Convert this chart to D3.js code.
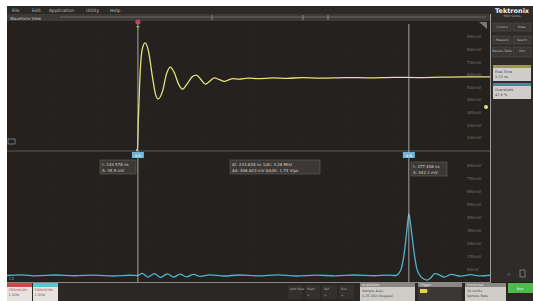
<!DOCTYPE html>
<meta charset="utf-8">
<style>
body{margin:0;background:#fff;}
svg{display:block;font-family:'DejaVu Sans',sans-serif;}
</style>
<svg width="533" height="301"></svg>
<script src="https://d3js.org/d3.v7.min.js"></script>
<script>
// data (time in ns, amplitude in mV)
var menuItems = ["File", "Edit", "Application", "Utility", "Help"];
var ch1Time = [267, 270, 272, 275, 280, 286, 293, 301, 307, 313, 322, 330, 338, 346, 355, 363, 373, 384, 392, 402, 411, 421, 429, 440, 450, 459, 467, 480, 500, 520, 550, 580, 610, 650, 700, 750, 800, 850, 900, 950, 1000];
var ch1Value = [0, 0, 250, 560, 800, 850, 783, 583, 450, 405, 467, 600, 658, 617, 525, 483, 525, 583, 595, 558, 523, 550, 572, 558, 545, 556, 566, 562, 570, 566, 572, 569, 574, 571, 575, 573, 577, 575, 578, 580, 580];
var ch2Time = [0, 30, 60, 100, 140, 180, 220, 255, 270, 280, 292, 305, 318, 332, 345, 358, 372, 386, 400, 420, 450, 480, 520, 560, 600, 640, 680, 720, 760, 790, 805, 815, 822, 828, 832, 836, 842, 848, 855, 862, 870, 878, 886, 895, 905, 920, 940, 960, 980, 1000];
var ch2Value = [0, 5, -3, 4, -2, 3, -4, 2, 0, 16, -12, 15, -14, 12, -13, 11, -10, 9, -6, 5, -4, 4, -3, 5, -4, 3, -3, 4, -2, 3, 0, 40, 160, 350, 475, 380, 200, 60, 0, -25, -35, -15, 15, 5, -12, 8, -5, 6, -3, 2];
var ch1Ticks = [100, 200, 300, 400, 500, 600, 700, 800, 900];
var ch2Ticks = [50, 150, 250, 350, 450, 550, 650, 750, 850];
var cursorTimes = [271, 832];
var readLeft = ["t: 143.578 ns", "A: 35.5 mV"];
var readMid = ["Δt: 233.828 ns   1/Δt: 4.28 MHz", "ΔA: 406.623 mV  ΔA/Δt: 1.74 V/μs"];
var readRight = ["t: 377.406 ns", "A: 442.1 mV"];

var svg = d3.select("svg");

var x = d3.scaleLinear().domain([0, 1000]).range([7, 490]);
var yTop = d3.scaleLinear().domain([0, 1000]).range([150, 24]);
var yBot = d3.scaleLinear().domain([-50, 950]).range([282, 152]);

// screen background
svg.append("rect").attr("x", 7).attr("y", 6).attr("width", 526).attr("height", 295).attr("fill", "#24211e");

// menu bar
svg.append("rect").attr("x", 7).attr("y", 6).attr("width", 484).attr("height", 8).attr("fill", "#2c2a28");
var mx = [12, 32, 49, 86, 110];
svg.selectAll(".menu").data(menuItems).enter().append("text")
    .attr("x", (d, i) => mx[i]).attr("y", 12)
    .attr("font-size", 4.5).attr("fill", "#bbb").text(d => d);

// waveform view title bar
svg.append("rect").attr("x", 7).attr("y", 14).attr("width", 484).attr("height", 7).attr("fill", "#3d3a37");
svg.append("text").attr("x", 10).attr("y", 19.5).attr("font-size", 4).attr("fill", "#ccc").text("Waveform View");
svg.append("line").attr("x1", 60).attr("x2", 486).attr("y1", 17).attr("y2", 17).attr("stroke", "#6b6865").attr("stroke-width", 1);
[212, 303, 328].forEach(function (t) {
    svg.append("line").attr("x1", t).attr("x2", t).attr("y1", 15).attr("y2", 20).attr("stroke", "#8a8784");
});
svg.append("path").attr("d", "M479,22 L487,22 L487,29 Z").attr("fill", "#777");

// faint grid
var grid = svg.append("g").attr("stroke", "#2f2b28").attr("stroke-width", 0.5).attr("stroke-dasharray", "1,2");
d3.range(100, 1000, 100).forEach(function (t) {
    grid.append("line").attr("x1", x(t)).attr("x2", x(t)).attr("y1", 22).attr("y2", 282);
});
ch1Ticks.forEach(function (v) {
    grid.append("line").attr("x1", 7).attr("x2", 490).attr("y1", yTop(v)).attr("y2", yTop(v));
});
ch2Ticks.forEach(function (v) {
    grid.append("line").attr("x1", 7).attr("x2", 490).attr("y1", yBot(v)).attr("y2", yBot(v));
});

// separators and borders
svg.append("line").attr("x1", 7).attr("x2", 490).attr("y1", 151).attr("y2", 151).attr("stroke", "#5e5b58").attr("stroke-width", 1);
svg.append("line").attr("x1", 7).attr("x2", 490).attr("y1", 282.5).attr("y2", 282.5).attr("stroke", "#8a8784").attr("stroke-width", 1);
svg.append("line").attr("x1", 490.5).attr("x2", 490.5).attr("y1", 14).attr("y2", 283).attr("stroke", "#9a9794").attr("stroke-width", 1);

// right side axes
svg.append("g").attr("transform", "translate(467,0)")
    .call(d3.axisRight(yTop).tickValues(ch1Ticks).tickSize(0).tickPadding(0).tickFormat(d => d + "mV"))
    .call(g => g.select(".domain").remove())
    .selectAll("text").attr("font-size", 4).attr("fill", "#7a7672").attr("font-family", "DejaVu Sans");
svg.append("g").attr("transform", "translate(467,0)")
    .call(d3.axisRight(yBot).tickValues(ch2Ticks).tickSize(0).tickPadding(0).tickFormat(d => d + "mV"))
    .call(g => g.select(".domain").remove())
    .selectAll("text").attr("font-size", 4).attr("fill", "#7a7672").attr("font-family", "DejaVu Sans");

// traces
var ch1 = ch1Time.map((t, i) => [t, ch1Value[i]]);
var ch2 = ch2Time.map((t, i) => [t, ch2Value[i]]);
var line1 = d3.line().x(d => x(d[0])).y(d => yTop(d[1])).curve(d3.curveMonotoneX);
var line2 = d3.line().x(d => x(d[0])).y(d => yBot(d[1])).curve(d3.curveMonotoneX);
svg.append("path").datum(ch1).attr("d", line1).attr("fill", "none").attr("stroke", "#e6e27a").attr("stroke-width", 1.3);
svg.append("path").datum(ch2).attr("d", line2).attr("fill", "none").attr("stroke", "#4fb3cf").attr("stroke-width", 1.3);

// channel markers
svg.append("rect").attr("x", 8).attr("y", 139).attr("width", 7).attr("height", 5).attr("fill", "none").attr("stroke", "#aaa").attr("stroke-width", 0.6);
svg.append("text").attr("x", 9).attr("y", 280).attr("font-size", 4).attr("fill", "#4fb3cf").text("C2");
svg.append("circle").attr("cx", 486).attr("cy", 107).attr("r", 2).attr("fill", "#e6e27a");

// cursors
cursorTimes.forEach(function (t) {
    svg.append("line").attr("x1", x(t)).attr("x2", x(t)).attr("y1", 24).attr("y2", 282)
        .attr("stroke", "#c9c6c2").attr("stroke-width", 0.8);
    svg.append("rect").attr("x", x(t) - 6).attr("y", 152).attr("width", 12).attr("height", 6).attr("fill", "#6fb6d2");
    svg.append("text").attr("x", x(t)).attr("y", 156.8).attr("text-anchor", "middle").attr("font-size", 4).attr("fill", "#fff").text("a b");
});
// trigger marker
svg.append("circle").attr("cx", x(cursorTimes[0])).attr("cy", 22).attr("r", 2.5).attr("fill", "#c8406a");
svg.append("path").attr("d", "M" + (x(cursorTimes[0]) - 2) + ",26 L" + (x(cursorTimes[0]) + 2) + ",26 L" + x(cursorTimes[0]) + ",29 Z").attr("fill", "#7fa04a");

// cursor readouts
function readout(x0, y0, w, lines) {
    svg.append("rect").attr("x", x0).attr("y", y0).attr("width", w).attr("height", 14)
        .attr("fill", "#3b3835").attr("stroke", "#6e6b68").attr("stroke-width", 0.5);
    lines.forEach(function (l, i) {
        svg.append("text").attr("x", x0 + 2).attr("y", y0 + 6 + i * 5.5).attr("font-size", 4).attr("fill", "#d8d5d0").text(l);
    });
}
readout(100, 160, 36, readLeft);
readout(230, 160, 90, readMid);
readout(411, 162, 36, readRight);

// right panel
svg.append("rect").attr("x", 491).attr("y", 6).attr("width", 42).attr("height", 276).attr("fill", "#2e2b28");
svg.append("text").attr("x", 512).attr("y", 12.5).attr("text-anchor", "middle").attr("font-size", 6.5).attr("font-weight", "bold").attr("fill", "#eee").text("Tektronix");
svg.append("text").attr("x", 512).attr("y", 17).attr("text-anchor", "middle").attr("font-size", 3).attr("fill", "#aaa").text("MSO Series");
var btns = [[493, 23, "Cursors"], [513, 23, "Meas"], [493, 36, "Measure"], [513, 36, "Search"], [493, 47, "Results Table"], [513, 47, "Plot"]];
btns.forEach(function (b) {
    svg.append("rect").attr("x", b[0]).attr("y", b[1]).attr("width", 18).attr("height", b[1] === 47 ? 10 : 8)
        .attr("fill", "#3a3734").attr("stroke", "#5a5754").attr("stroke-width", 0.5);
    svg.append("text").attr("x", b[0] + 9).attr("y", b[1] + 5).attr("text-anchor", "middle").attr("font-size", 3).attr("fill", "#bbb").text(b[2]);
});
[[65, "#9a9a4a", "Rise Time", "1.23 ns"], [83, "#3e8a96", "Overshoot", "47.6 %"]].forEach(function (m) {
    svg.append("rect").attr("x", 493).attr("y", m[0]).attr("width", 38).attr("height", 16).attr("fill", "#cfcdca");
    svg.append("rect").attr("x", 493).attr("y", m[0]).attr("width", 38).attr("height", 3).attr("fill", m[1]);
    svg.append("text").attr("x", 495).attr("y", m[0] + 8).attr("font-size", 3.5).attr("fill", "#444").text(m[2]);
    svg.append("text").attr("x", 495).attr("y", m[0] + 13).attr("font-size", 3.5).attr("fill", "#444").text(m[3]);
});
svg.append("text").attr("x", 507).attr("y", 276).attr("font-size", 6).attr("fill", "#999").text("⌕");
svg.append("rect").attr("x", 520).attr("y", 270).attr("width", 5).attr("height", 7).attr("fill", "none").attr("stroke", "#999").attr("stroke-width", 0.7);

// bottom bar
svg.append("rect").attr("x", 7).attr("y", 283).attr("width", 526).attr("height", 18).attr("fill", "#2a2725");
function badge(x0, w, head, lines) {
    svg.append("rect").attr("x", x0).attr("y", 283).attr("width", w).attr("height", 18).attr("fill", "#e6e2e0");
    svg.append("rect").attr("x", x0).attr("y", 283).attr("width", w).attr("height", 4).attr("fill", head);
    lines.forEach(function (l, i) {
        svg.append("text").attr("x", x0 + 1.5).attr("y", 291 + i * 5).attr("font-size", 3.5).attr("fill", i === 0 ? "#c04040" : "#555").text(l);
    });
}
badge(7, 25, "#c94848", ["200mV/div", "1 GHz"]);
badge(33, 25, "#5cc4d0", ["100mV/div", "1 GHz"]);
var addBtns = ["Add New", "Math", "Ref", "Bus"];
addBtns.forEach(function (b, i) {
    svg.append("rect").attr("x", 288 + i * 17).attr("y", 285).attr("width", 15).attr("height", 14).attr("fill", "#33302d");
    svg.append("text").attr("x", 290 + i * 17).attr("y", 290).attr("font-size", 3.2).attr("fill", "#aaa").text(b);
    svg.append("text").attr("x", 290 + i * 17).attr("y", 296).attr("font-size", 3.2).attr("fill", "#aaa").text(i ? "+" : "");
});
function panel(x0, w, title, lines, light) {
    svg.append("rect").attr("x", x0).attr("y", 283).attr("width", w).attr("height", 18).attr("fill", light ? "#cfccc8" : "#3a3734");
    svg.append("rect").attr("x", x0).attr("y", 283).attr("width", w).attr("height", 4).attr("fill", "#8a8784");
    svg.append("text").attr("x", x0 + 2).attr("y", 286.3).attr("font-size", 3.2).attr("fill", "#eee").text(title);
    lines.forEach(function (l, i) {
        svg.append("text").attr("x", x0 + 2).attr("y", 292 + i * 5).attr("font-size", 3.3).attr("fill", light ? "#444" : "#ccc").text(l);
    });
}
panel(360, 55, "Acquisition", ["Sample   Auto", "6.25 GS/s  Stopped"], true);
panel(418, 44, "Trigger", ["     1.1 V"], false);
svg.append("rect").attr("x", 420).attr("y", 289).attr("width", 7).attr("height", 4).attr("fill", "#e0d84a");
panel(465, 41, "Horizontal", ["20 ns/div", "Sample Rate"], true);
svg.append("rect").attr("x", 508).attr("y", 283).attr("width", 25).attr("height", 10).attr("fill", "#4cbb4c");
svg.append("text").attr("x", 520).attr("y", 289.5).attr("text-anchor", "middle").attr("font-size", 3.5).attr("fill", "#fff").text("Run");
</script>
